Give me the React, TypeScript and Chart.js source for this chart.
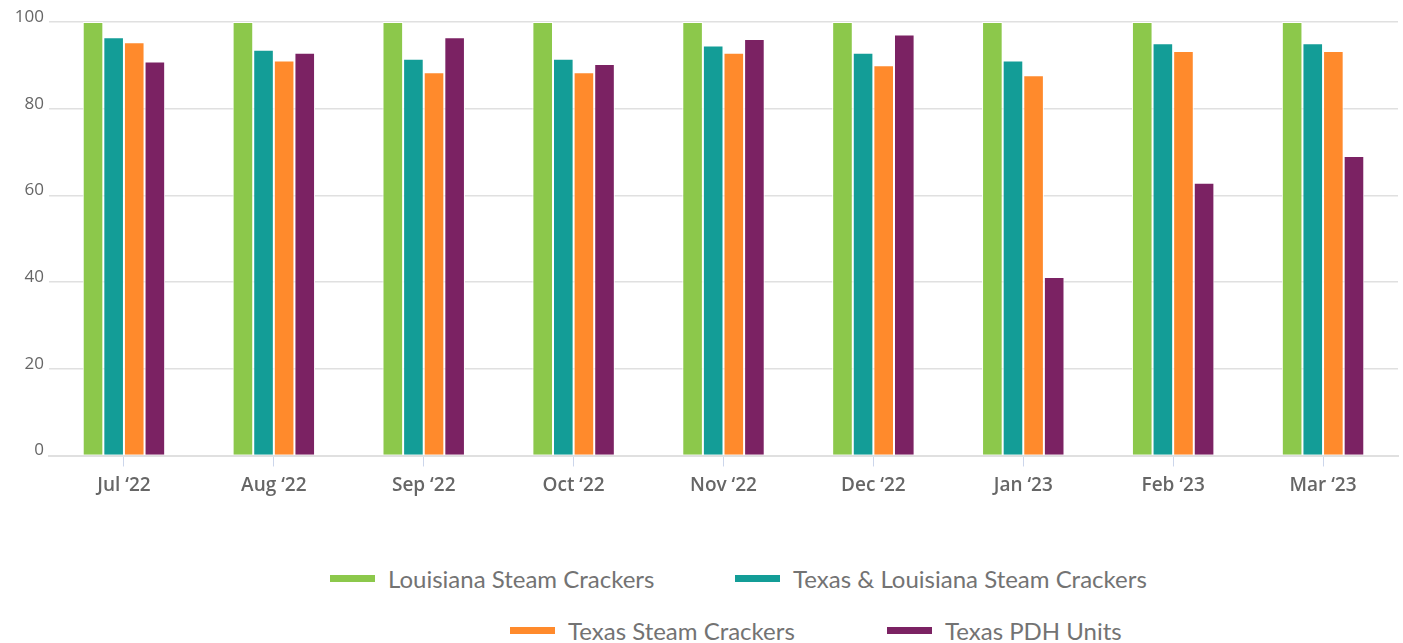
import React, { useEffect, useRef } from "react";
import { Chart, registerables } from "chart.js";

Chart.register(...registerables);

const categories = ["Jul ‘22", "Aug ‘22", "Sep ‘22", "Oct ‘22", "Nov ‘22", "Dec ‘22", "Jan ‘23", "Feb ‘23", "Mar ‘23"];
const seriesNames = ["Louisiana Steam Crackers", "Texas & Louisiana Steam Crackers", "Texas Steam Crackers", "Texas PDH Units"];
const louisiana = [100, 100, 100, 100, 100, 100, 100, 100, 100];
const texasLouisiana = [96.5, 93.6, 91.5, 91.5, 94.6, 92.9, 91.1, 95.1, 95.1];
const texas = [95.3, 91.1, 88.4, 88.4, 92.9, 90.0, 87.7, 93.3, 93.3];
const texasPdh = [90.9, 92.9, 96.5, 90.3, 96.1, 97.1, 41.2, 62.9, 69.1];
const colors = ["#8cc84b", "#139d97", "#ff8a2c", "#7b2263"];
const yTicks = [0, 20, 40, 60, 80, 100];

const legendPos = [
  { left: 330, top: 578 },
  { left: 735, top: 578 },
  { left: 510, top: 630 },
  { left: 887, top: 630 },
];

export default function App() {
  const ref = useRef<HTMLCanvasElement>(null);
  useEffect(() => {
    const values = [louisiana, texasLouisiana, texas, texasPdh];
    const chart = new Chart(ref.current as HTMLCanvasElement, {
      type: "bar",
      data: {
        labels: categories,
        datasets: seriesNames.map((name, i) => ({
          label: name,
          data: values[i],
          backgroundColor: colors[i],
          borderColor: "#ffffff",
          borderWidth: 1,
          categoryPercentage: 0.55,
          barPercentage: 1,
        })),
      },
      options: {
        animation: false,
        responsive: true,
        maintainAspectRatio: false,
        layout: { padding: { top: 22, right: 5, bottom: 0, left: 0 } },
        plugins: { legend: { display: false }, tooltip: { enabled: false } },
        scales: {
          x: {
            grid: { display: true, drawOnChartArea: false, drawTicks: true, tickLength: 11, color: "#ccd6eb", offset: false },
            border: { display: true, color: "#e0e0e0", width: 2 },
            ticks: { color: "#666666", font: { family: "Open Sans", size: 19, weight: "600" }, padding: 8, maxRotation: 0, autoSkip: false },
            afterFit: (s: any) => { s.height = 64.5; },
          },
          y: {
            min: 0,
            max: 100,
            afterBuildTicks: (s: any) => { s.ticks = yTicks.map((v) => ({ value: v })); },
            ticks: { color: "#666666", font: { family: "Open Sans", size: 17 }, padding: 5, labelOffset: -5 },
            grid: { color: "#e0e0e0", lineWidth: 1.5, drawTicks: false },
            border: { display: false },
            afterFit: (s: any) => { s.width = 49; },
          },
        },
      },
    });
    return () => chart.destroy();
  }, []);

  return (
    <div style={{ position: "fixed", left: 0, top: 0, width: 1403, height: 643, overflow: "hidden", background: "#ffffff" }}>
      <div style={{ position: "absolute", left: 0, top: 0, width: 1403, height: 520 }}>
        <canvas ref={ref} />
      </div>
      {seriesNames.map((name, i) => (
        <div
          key={name}
          style={{
            position: "absolute",
            left: legendPos[i].left,
            top: legendPos[i].top - 16,
            height: 32,
            display: "flex",
            alignItems: "center",
            whiteSpace: "nowrap",
            fontFamily: "Lato, sans-serif",
            fontSize: 24,
            color: "#737373",
          }}
        >
          <span style={{ display: "inline-block", width: 45, height: 7, background: colors[i], marginRight: 13 }} />
          <span>{name}</span>
        </div>
      ))}
    </div>
  );
}
